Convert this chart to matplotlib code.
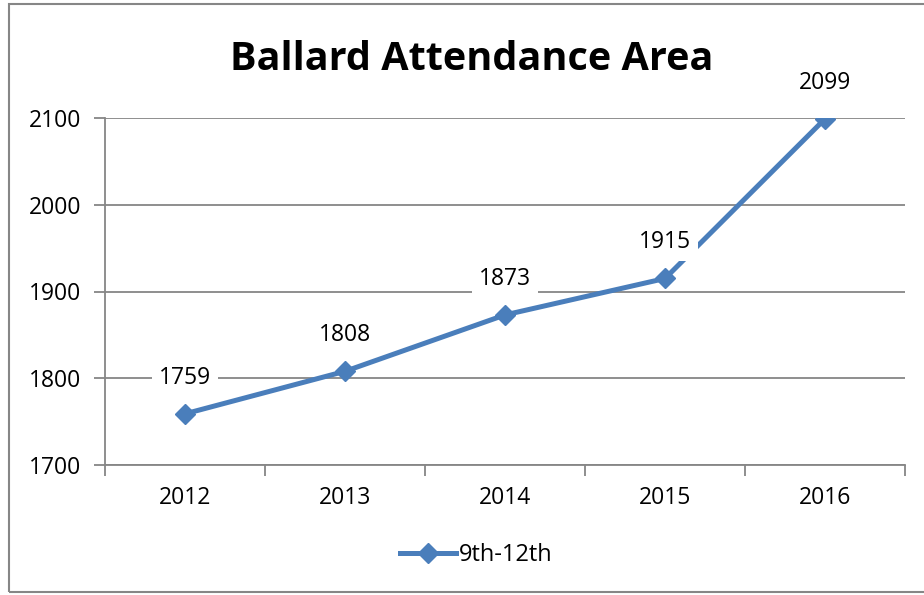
import matplotlib.pyplot as plt
from matplotlib.patches import Rectangle

years = ['2012', '2013', '2014', '2015', '2016']
students = [1759, 1808, 1873, 1915, 2099]
series_name = '9th-12th'

plt.rcParams['font.family'] = ['Open Sans', 'DejaVu Sans']
blue = '#4A7EBB'
grey = '#868686'

fig = plt.figure(figsize=(9.24, 5.95), dpi=100)
ax = fig.add_axes([105 / 924, 130 / 595, 800 / 924, 347 / 595])

x = list(range(len(years)))
ax.plot(x, students, color=blue, lw=3.6, marker='D', markersize=10.5,
        label=series_name, zorder=3)

for xi, v in zip(x, students):
    ax.annotate(str(v), (xi, v), xytext=(0, 26), textcoords='offset points',
                ha='center', va='center', fontsize=16.5, zorder=4,
                bbox=dict(boxstyle='square,pad=0.3', fc='white', ec='none'))

ax.set_xlim(-0.5, len(years) - 0.5)
ax.set_ylim(1700, 2100)
ax.set_yticks([1700, 1800, 1900, 2000, 2100])
ax.set_xticks(x)
ax.set_xticklabels(years)
ax.set_xticks([i - 0.5 for i in range(len(years) + 1)], minor=True)
ax.tick_params(axis='x', which='major', length=0, pad=15, labelsize=16.5)
ax.tick_params(axis='x', which='minor', length=8, color=grey, width=1.3)
ax.tick_params(axis='y', length=8, color=grey, width=1.3, labelsize=16.5, pad=9)
ax.grid(axis='y', color=grey, lw=1.3)
ax.set_axisbelow(True)
for s in ['top', 'right']:
    ax.spines[s].set_visible(False)
for s in ['left', 'bottom']:
    ax.spines[s].set_color(grey)
    ax.spines[s].set_linewidth(1.3)

fig.text(472 / 924, 1 - 60 / 595, 'Ballard Attendance Area', ha='center',
         va='center', fontsize=28.5, fontweight='bold')

fig.legend(loc='center', bbox_to_anchor=(476 / 924, 1 - 555 / 595),
           frameon=False, fontsize=17, handlelength=2.4, handletextpad=0.1)

fig.patches.append(Rectangle((9 / 924, 3 / 595), 1.0, 588 / 595,
                             transform=fig.transFigure, fill=False,
                             ec=grey, lw=1.5))

fig.savefig('out.png', dpi=100)
